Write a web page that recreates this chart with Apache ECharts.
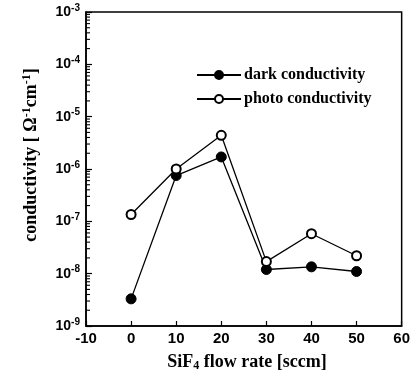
<!DOCTYPE html>
<html>
<head>
<meta charset="utf-8">
<script src="https://cdn.jsdelivr.net/npm/echarts@6/dist/echarts.min.js"></script>
<style>
  html, body { margin: 0; padding: 0; background: #fff; }
  #chart { width: 413px; height: 384px; }
</style>
</head>
<body>
<div id="chart"></div>
<script>
// SiF4 flow rate (sccm)
const flowRate = [0, 10, 20, 30, 40, 50];
// conductivity values (ohm^-1 cm^-1)
const darkCond = [3.3e-9, 7.5e-7, 1.7e-6, 1.2e-8, 1.35e-8, 1.1e-8];
const photoCond = [1.35e-7, 1.0e-6, 4.4e-6, 1.7e-8, 5.8e-8, 2.2e-8];
const seriesNames = ['dark conductivity', 'photo conductivity'];

// log minor ticks 2..9 in each decade
const decades = [-9, -8, -7, -6, -5, -4];
const minorTicks = [];
decades.forEach(function (d) {
  for (let m = 2; m <= 9; m++) minorTicks.push([-10, m * Math.pow(10, d)]);
});

const chart = echarts.init(document.getElementById('chart'));

const sansBold = { fontFamily: 'Liberation Sans', fontWeight: 'bold', color: '#000' };

let option = {
  backgroundColor: '#fff',
  animation: false,
  grid: {
    left: 86, right: 11, top: 12, bottom: 58,
    show: true, borderColor: '#000', borderWidth: 1.5
  },
  legend: {
    data: seriesNames,
    orient: 'vertical',
    left: 191,
    top: 62,
    itemWidth: 44,
    itemHeight: 10,
    itemGap: 8,
    textStyle: { fontFamily: 'Liberation Serif', fontWeight: 'bold', fontSize: 16, color: '#000', padding: [0, 0, 0, -2] }
  },
  xAxis: {
    type: 'value',
    min: -10,
    max: 60,
    interval: 10,
    axisLine: { onZero: false, lineStyle: { color: '#000', width: 1.5 } },
    axisTick: { inside: true, length: 5, lineStyle: { color: '#000', width: 1.2 } },
    axisLabel: Object.assign({ fontSize: 15, margin: 5 }, sansBold),
    splitLine: { show: false }
  },
  yAxis: {
    type: 'log',
    logBase: 10,
    min: 1e-9,
    max: 1e-3,
    axisLine: { show: true, onZero: false, lineStyle: { color: '#000', width: 1.5 } },
    axisTick: { inside: true, length: 6, lineStyle: { color: '#000', width: 1.2 } },
    axisLabel: Object.assign({
      fontSize: 14,
      margin: 6,
      formatter: function (v) {
        return '{b|10}{s|' + Math.round(Math.log10(v)) + '}';
      },
      rich: {
        b: { fontSize: 14, fontFamily: 'Liberation Sans', fontWeight: 'bold', color: '#000' },
        s: { fontSize: 10, fontFamily: 'Liberation Sans', fontWeight: 'bold', color: '#000', padding: [0, 0, 8, 0] }
      }
    }, sansBold),
    splitLine: { show: false }
  },
  graphic: [
    {
      type: 'text',
      x: 31,
      y: 155,
      rotation: Math.PI / 2,
      style: {
        text: 'conductivity [ \u03a9{s|-1}cm{s|-1}]',
        font: 'bold 18px "Liberation Serif"',
        fill: '#000',
        align: 'center',
        verticalAlign: 'middle',
        rich: {
          s: { font: 'bold 12px "Liberation Serif"', fill: '#000', padding: [0, 0, 9, 0] }
        }
      }
    },
    {
      type: 'text',
      x: 247,
      y: 362,
      style: {
        text: 'SiF{sub|4} flow rate [sccm]',
        font: 'bold 18px "Liberation Serif"',
        fill: '#000',
        align: 'center',
        verticalAlign: 'middle',
        rich: {
          sub: { font: 'bold 12px "Liberation Serif"', fill: '#000', padding: [8, 0, 0, 0] }
        }
      }
    }
  ],
  series: [
    {
      type: 'custom',
      silent: true,
      data: minorTicks,
      renderItem: function (params, api) {
        const p = api.coord([api.value(0), api.value(1)]);
        return {
          type: 'line',
          shape: { x1: p[0], y1: p[1], x2: p[0] + 4, y2: p[1] },
          style: { stroke: '#000', lineWidth: 1.1 }
        };
      },
      z: 5
    },
    {
      name: seriesNames[0],
      type: 'line',
      data: flowRate.map(function (x, i) { return [x, darkCond[i]]; }),
      symbol: 'circle',
      symbolSize: 10,
      lineStyle: { color: '#000', width: 1.3 },
      itemStyle: { color: '#000', borderColor: '#000', borderWidth: 1 },
      z: 3
    },
    {
      name: seriesNames[1],
      type: 'line',
      data: flowRate.map(function (x, i) { return [x, photoCond[i]]; }),
      symbol: 'circle',
      symbolSize: 9,
      lineStyle: { color: '#000', width: 1.3 },
      itemStyle: { color: '#fff', borderColor: '#000', borderWidth: 2 },
      z: 4
    }
  ]
};

chart.setOption(option);
</script>
</body>
</html>
